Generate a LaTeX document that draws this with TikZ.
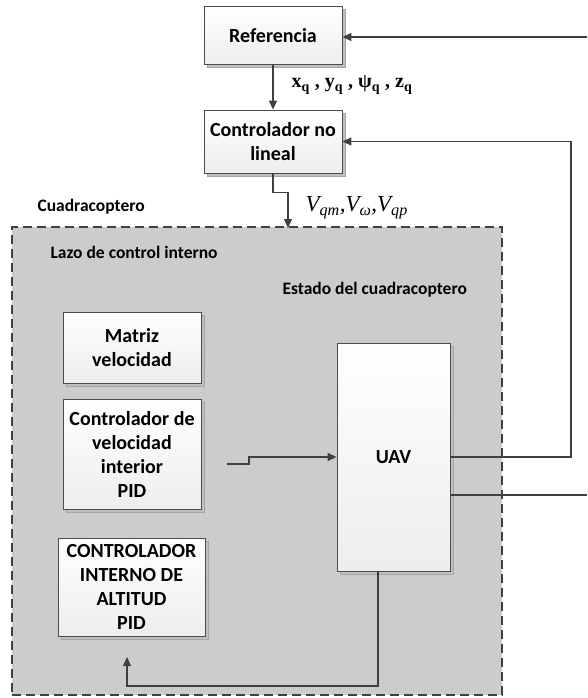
\documentclass[tikz,border=0pt]{standalone}
\usepackage{fontspec}
\setmainfont{Carlito}
\newfontfamily\serifmath{Liberation Serif}
\usetikzlibrary{arrows.meta,shadows}

\begin{document}
\begin{tikzpicture}[x=1pt,y=-1pt,
        >={Triangle[length=9pt,width=8pt]},
        conn/.style={draw=black!75,line width=1.3pt},
        blk/.style={draw=black!70,line width=0.8pt,top color=white,bottom color=black!7,
            font=\fontsize{20}{24}\selectfont\bfseries,align=center,inner sep=2pt,
            drop shadow={shadow xshift=3pt,shadow yshift=-3pt,fill=black!25,draw=black!35,opacity=1}},
        lbl/.style={anchor=west,font=\bfseries\fontsize{17.5}{20}\selectfont}]
        \useasboundingbox (0,0) rectangle (587,698);
        % quadrotor region
        \node[draw=black!75,dashed,dash pattern=on 9pt off 5pt,line width=1.6pt,fill=black!20,
            minimum width=490pt,minimum height=468pt,inner sep=0pt] (cuad) at (257,461) {};
        \node[lbl] (tcuad) at (34,207) {Cuadracoptero};
        \node[lbl] (tlazo) at (47,252) {Lazo de control interno};
        \node[lbl] (testado) at (279,290) {Estado del cuadracoptero};
        % blocks
        \node[blk,minimum width=138pt,minimum height=58pt] (ref) at (273,35.5) {Referencia};
        \node[blk,minimum width=138pt,minimum height=63pt] (ctrl) at (273,141.5) {Controlador no\\lineal};
        \node[blk,minimum width=138pt,minimum height=71pt] (matriz) at (132,347.5) {Matriz\\velocidad};
        \node[blk,minimum width=138pt,minimum height=110pt] (cvel) at (132,454) {Controlador de\\velocidad\\interior\\PID};
        \node[blk,minimum width=113pt,minimum height=228pt] (uav) at (393.5,457) {UAV};
        \node[blk,minimum width=147pt,minimum height=98pt] (alt) at (131.5,587) {CONTROLADOR\\INTERNO DE\\ALTITUD\\PID};
        % signal labels
        \node[anchor=west,font=\serifmath\bfseries\fontsize{20}{22}\selectfont] (xq) at (288,85)
            {x\textsubscript{q} , y\textsubscript{q} , ψ\textsubscript{q} , z\textsubscript{q}};
        \node[anchor=west,font=\serifmath\itshape\fontsize{23}{26}\selectfont] (vq) at (302,208)
            {V\textsubscript{qm},V\textsubscript{ω},V\textsubscript{qp}};
        % free ends
        \coordinate (fbin) at (587,37);
        \coordinate (fbc) at (571,457);
        \coordinate (uout) at (587,495);
        \coordinate (vin) at (288,228);
        \coordinate (cin) at (227,464);
        \coordinate (altin) at (127,657);
        % connectors
        \draw[conn,->] (ref) -- (ctrl);
        \draw[conn,->] (fbin) -- (ref.east |- fbin);
        \draw[conn,->] (uav.east) -- (fbc) |- (ctrl.east);
        \draw[conn] (uav.east |- uout) -- (uout);
        \draw[conn,->] (ctrl.south) -- ++(0,19) -| (vin);
        \draw[conn,->] (cin) -- ++(22,0) -- ++(0,-7) -- (uav.west);
        \draw[conn,->] (uav.south -| 378,0) -- (378,686) -| (altin);
\end{tikzpicture}
\end{document}
